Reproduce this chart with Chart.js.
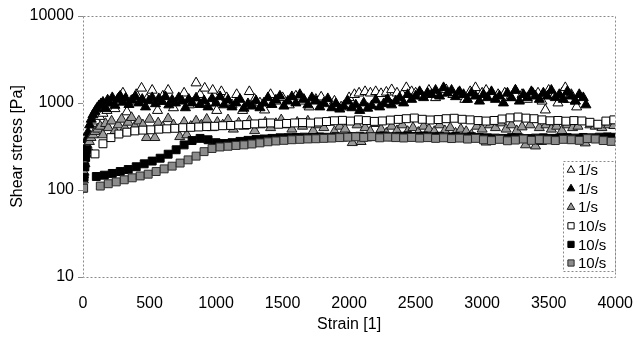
<!DOCTYPE html>
<html>
<head>
<meta charset="utf-8">
<script src="https://cdn.jsdelivr.net/npm/chart.js@4.4.1/dist/chart.umd.min.js"></script>
<style>
  body { margin: 0; background: #fff; }
  canvas { display: block; }
</style>
</head>
<body>
<canvas id="chart" width="633" height="338"></canvas>
<script>
// series labels as in the legend
const seriesLabels = ['1/s', '1/s', '1/s', '10/s', '10/s', '10/s'];
const xTicks = [0, 500, 1000, 1500, 2000, 2500, 3000, 3500, 4000];
const yTicks = [10, 100, 1000, 10000];

// 1/s, open triangles
const openTriStrain = [3, 10, 18, 30, 45, 60, 80, 100, 125, 150, 180, 210, 240, 270, 300, 330, 360, 400, 440, 480, 520, 560, 600, 640, 680, 720, 760, 800, 850, 880, 915, 950, 975, 1005, 1040, 1080, 1120, 1155, 1200, 1250, 1290, 1330, 1365, 1410, 1450, 1500, 1550, 1600, 1650, 1700, 1750, 1790, 1840, 1890, 1940, 2000, 2040, 2075, 2120, 2160, 2200, 2240, 2280, 2320, 2360, 2400, 2430, 2470, 2500, 2550, 2600, 2650, 2700, 2730, 2780, 2820, 2870, 2910, 2950, 3000, 3030, 3080, 3120, 3170, 3210, 3250, 3300, 3340, 3380, 3420, 3450, 3475, 3500, 3540, 3570, 3600, 3625, 3650, 3670, 3700, 3710];
const openTriStress = [150, 200, 260, 330, 420, 480, 560, 620, 700, 760, 820, 1000, 860, 1150, 1300, 790, 1050, 1250, 1480, 1100, 1400, 820, 1200, 1400, 880, 1100, 1300, 950, 1700, 1250, 1480, 1000, 1400, 820, 1350, 1150, 950, 1250, 820, 1350, 1100, 1000, 830, 1250, 1050, 1150, 950, 1200, 1050, 900, 1100, 1170, 980, 1050, 900, 1150, 1250, 1300, 1350, 1300, 1350, 1280, 1330, 1420, 1300, 1250, 1500, 1350, 1300, 1200, 1400, 1150, 1300, 1420, 1250, 1300, 1100, 1350, 1500, 1300, 1400, 1200, 1250, 1300, 1150, 1400, 1250, 1100, 1300, 1300, 1050, 830, 1400, 1200, 1000, 1300, 1500, 1100, 1250, 1050, 900];

// 1/s, filled triangles
const fullTriStrain = [5, 12, 20, 28, 38, 50, 62, 75, 90, 105, 120, 135, 150, 170, 185, 200, 220, 240, 260, 280, 300, 320, 345, 370, 395, 420, 445, 470, 495, 520, 545, 570, 595, 620, 645, 670, 695, 720, 745, 770, 795, 820, 850, 880, 910, 940, 970, 1000, 1030, 1060, 1090, 1120, 1150, 1180, 1210, 1240, 1270, 1300, 1330, 1360, 1390, 1420, 1450, 1480, 1510, 1540, 1570, 1600, 1630, 1660, 1690, 1720, 1750, 1780, 1810, 1840, 1870, 1900, 1930, 1960, 1990, 2020, 2050, 2080, 2110, 2140, 2170, 2200, 2230, 2260, 2290, 2320, 2350, 2380, 2410, 2440, 2470, 2500, 2530, 2560, 2590, 2620, 2650, 2680, 2710, 2740, 2770, 2800, 2830, 2860, 2890, 2920, 2950, 2980, 3010, 3040, 3070, 3100, 3130, 3160, 3190, 3220, 3250, 3280, 3310, 3340, 3370, 3400, 3430, 3460, 3490, 3520, 3550, 3580, 3610, 3640, 3670, 3700, 3730, 3760, 3780];
const fullTriStress = [180, 230, 300, 380, 460, 560, 650, 730, 800, 870, 930, 980, 1020, 860, 1080, 1000, 1150, 940, 1100, 1200, 1020, 1130, 960, 1080, 1180, 1000, 1100, 900, 1060, 1150, 980, 1120, 1040, 1180, 950, 1080, 1000, 1150, 1050, 880, 1100, 1000, 1140, 960, 1060, 900, 1120, 1000, 1180, 950, 1080, 900, 1000, 1100, 870, 980, 920, 1060, 880, 1000, 1150, 960, 1080, 1200, 920, 1050, 1180, 1000, 1250, 1100, 950, 1150, 1050, 900, 1000, 1120, 880, 980, 850, 920, 1050, 880, 950, 820, 1000, 870, 930, 1080, 900, 980, 1100, 950, 1050, 1150, 1000, 1250, 1100, 1200, 1350, 1150, 1300, 1250, 1400, 1200, 1500, 1300, 1400, 1180, 1350, 1250, 1100, 1300, 1200, 1050, 1250, 1150, 1350, 1100, 1200, 1000, 1300, 1150, 1400, 1050, 1250, 1150, 1350, 1200, 1100, 1300, 1200, 1400, 1150, 1250, 1100, 1350, 1200, 1050, 1250, 1150, 950];

// 1/s, grey triangles
const greyTriStrain = [3, 8, 15, 25, 35, 48, 60, 75, 90, 110, 130, 150, 170, 190, 215, 240, 265, 290, 315, 340, 365, 390, 420, 450, 477, 500, 540, 565, 600, 640, 680, 727, 760, 780, 810, 850, 890, 930, 970, 1010, 1050, 1090, 1130, 1170, 1210, 1250, 1290, 1330, 1370, 1410, 1450, 1490, 1530, 1570, 1610, 1650, 1690, 1730, 1770, 1810, 1850, 1890, 1930, 1970, 2024, 2060, 2090, 2120, 2160, 2200, 2240, 2280, 2320, 2360, 2400, 2440, 2480, 2520, 2560, 2600, 2640, 2680, 2720, 2760, 2800, 2840, 2880, 2920, 2960, 3000, 3030, 3060, 3100, 3140, 3180, 3220, 3260, 3300, 3326, 3360, 3401, 3430, 3446, 3480, 3520, 3560, 3600, 3640, 3680, 3720, 3775, 3810, 3850, 3900, 3950, 3990];
const greyTriStress = [130, 160, 200, 260, 310, 360, 400, 430, 470, 500, 540, 430, 580, 520, 620, 480, 560, 650, 520, 600, 680, 540, 620, 560, 400, 650, 400, 590, 530, 660, 560, 410, 600, 430, 540, 620, 560, 650, 520, 600, 560, 640, 500, 590, 540, 620, 480, 560, 600, 520, 580, 640, 560, 500, 600, 540, 620, 480, 560, 520, 600, 470, 540, 500, 350, 560, 360, 520, 470, 580, 500, 450, 540, 480, 560, 470, 520, 460, 540, 500, 470, 560, 480, 520, 450, 500, 470, 430, 540, 500, 355, 560, 520, 590, 500, 560, 480, 530, 330, 560, 320, 520, 360, 560, 500, 540, 480, 560, 520, 540, 347, 560, 540, 520, 560, 550];

// 10/s, open squares
const openSqStrain = [90, 150, 210, 270, 330, 390, 450, 510, 570, 630, 690, 750, 810, 870, 930, 990, 1050, 1110, 1170, 1230, 1290, 1350, 1410, 1470, 1530, 1590, 1650, 1710, 1770, 1830, 1890, 1950, 2010, 2070, 2130, 2190, 2250, 2310, 2370, 2430, 2490, 2550, 2610, 2670, 2730, 2790, 2850, 2910, 2970, 3030, 3090, 3150, 3210, 3270, 3330, 3390, 3450, 3510, 3570, 3630, 3690, 3750, 3810, 3870, 3930, 3990];
const openSqStress = [260, 340, 400, 440, 462, 478, 488, 492, 500, 505, 512, 520, 525, 530, 535, 540, 548, 552, 560, 565, 575, 585, 590, 570, 582, 590, 595, 588, 605, 612, 625, 632, 620, 640, 628, 615, 622, 636, 648, 660, 672, 650, 638, 645, 660, 668, 650, 640, 628, 620, 630, 655, 675, 690, 670, 660, 640, 625, 630, 618, 628, 622, 600, 570, 620, 640];

// 10/s, filled squares
const fullSqStrain = [3, 8, 14, 20, 26, 100, 160, 220, 280, 340, 400, 460, 520, 580, 640, 700, 760, 820, 880, 940, 1000, 1060, 1120, 1180, 1240, 1300, 1360, 1420, 1480, 1540, 1600, 1660, 1720, 1780, 1840, 1900, 1960, 2020, 2080, 2140, 2200, 2260, 2320, 2380, 2440, 2500, 2560, 2620, 2680, 2740, 2800, 2860, 2920, 2980, 3040, 3100, 3160, 3220, 3280, 3340, 3400, 3460, 3520, 3580, 3640, 3700, 3760, 3820, 3880, 3940, 3990];
const fullSqStress = [105, 140, 185, 240, 290, 143, 148, 155, 163, 172, 185, 200, 215, 232, 258, 290, 330, 370, 392, 378, 350, 342, 350, 362, 372, 380, 386, 392, 398, 400, 402, 405, 400, 408, 404, 410, 406, 412, 415, 408, 412, 418, 410, 415, 420, 412, 418, 410, 415, 408, 412, 405, 410, 402, 398, 395, 392, 400, 396, 390, 395, 398, 392, 396, 400, 395, 402, 398, 405, 408, 404];

// 10/s, grey squares
const greySqStrain = [5, 130, 190, 250, 310, 370, 430, 490, 550, 610, 670, 730, 790, 850, 910, 970, 1030, 1090, 1150, 1210, 1270, 1330, 1390, 1450, 1510, 1570, 1630, 1690, 1750, 1810, 1870, 1930, 1990, 2050, 2110, 2170, 2230, 2290, 2350, 2410, 2470, 2530, 2590, 2650, 2710, 2770, 2830, 2890, 2950, 3010, 3070, 3130, 3190, 3250, 3310, 3370, 3430, 3490, 3550, 3610, 3670, 3730, 3790, 3850, 3910, 3970];
const greySqStress = [105, 111, 118, 124, 131, 138, 145, 152, 163, 175, 188, 204, 222, 245, 276, 300, 312, 318, 325, 330, 338, 348, 358, 366, 372, 378, 382, 386, 388, 392, 395, 400, 405, 408, 402, 410, 398, 405, 400, 396, 402, 395, 400, 392, 398, 390, 395, 385, 392, 378, 370, 382, 368, 375, 385, 372, 380, 376, 370, 382, 378, 372, 390, 385, 370, 362];

const FONT = '"Liberation Sans", Arial, sans-serif';

function points(xs, ys) {
    return xs.map((x, i) => ({ x: x, y: ys[i] }));
}

const seriesData = [
    points(openTriStrain, openTriStress),
    points(fullTriStrain, fullTriStress),
    points(greyTriStrain, greyTriStress),
    points(openSqStrain, openSqStress),
    points(fullSqStrain, fullSqStress),
    points(greySqStrain, greySqStress)
];

const markerStyles = [
    { pointStyle: 'triangle', fill: '#ffffff', stroke: '#000000', r: 5.8 },
    { pointStyle: 'triangle', fill: '#000000', stroke: '#000000', r: 5.8 },
    { pointStyle: 'triangle', fill: '#9a9a9a', stroke: '#1a1a1a', r: 5.8 },
    { pointStyle: 'rect', fill: '#ffffff', stroke: '#000000', r: 5.6 },
    { pointStyle: 'rect', fill: '#000000', stroke: '#000000', r: 5.6 },
    { pointStyle: 'rect', fill: '#8c8c8c', stroke: '#2a2a2a', r: 5.6 }
];

// dotted frame round the plot area
const framePlugin = {
    id: 'frame',
    beforeDatasetsDraw(chart) {
        const { ctx, chartArea: a } = chart;
        ctx.save();
        ctx.strokeStyle = '#8a8a8a';
        ctx.lineWidth = 1;
        ctx.setLineDash([2, 2]);
        ctx.strokeRect(Math.round(a.left) + 0.5, Math.round(a.top) + 0.5,
            Math.round(a.right - a.left), Math.round(a.bottom - a.top));
        ctx.restore();
    }
};

// legend boxed inside the plot, lower right
const boxLegend = {
    id: 'boxLegend',
    afterDraw(chart) {
        const { ctx, chartArea: a } = chart;
        const w = 52, h = 110;
        const x0 = Math.round(a.right) - w, y0 = Math.round(a.bottom) - 6 - h;
        ctx.save();
        ctx.fillStyle = '#ffffff';
        ctx.fillRect(x0, y0, w, h);
        ctx.strokeStyle = '#8a8a8a';
        ctx.setLineDash([2, 2]);
        ctx.strokeRect(x0 + 0.5, y0 + 0.5, w, h);
        ctx.setLineDash([]);
        ctx.font = '15px ' + FONT;
        ctx.textBaseline = 'middle';
        seriesLabels.forEach((label, i) => {
            const y = y0 + 9 + i * 18.6;
            const s = markerStyles[i];
            ctx.fillStyle = s.fill;
            ctx.strokeStyle = s.stroke;
            ctx.lineWidth = 1;
            Chart.helpers.drawPoint(ctx, { pointStyle: s.pointStyle, radius: 4.4, borderWidth: 1, rotation: 0 }, x0 + 8, y);
            ctx.fillStyle = '#000000';
            ctx.fillText(label, x0 + 15, y + 1);
        });
        ctx.restore();
    }
};

new Chart(document.getElementById('chart'), {
    type: 'scatter',
    data: {
        datasets: seriesData.map((data, i) => ({
            label: seriesLabels[i],
            data: data,
            order: 6 - i,
            showLine: false,
            pointStyle: markerStyles[i].pointStyle,
            pointRadius: markerStyles[i].r,
            pointBackgroundColor: markerStyles[i].fill,
            pointBorderColor: markerStyles[i].stroke,
            pointBorderWidth: 1
        }))
    },
    options: {
        responsive: false,
        animation: false,
        layout: { padding: { top: 16, right: 0, bottom: 0, left: 0 } },
        plugins: {
            legend: { display: false },
            tooltip: { enabled: false }
        },
        scales: {
            x: {
                type: 'linear',
                min: 0,
                max: 4000,
                afterBuildTicks: scale => { scale.ticks = xTicks.map(v => ({ value: v })); },
                afterFit: scale => { scale.height = 61; },
                border: { display: false },
                // invisible tick marks only push the labels down
                grid: { display: true, drawOnChartArea: false, drawTicks: true, tickLength: 17, color: 'rgba(0,0,0,0)' },
                ticks: {
                    padding: 0,
                    color: '#000',
                    font: { family: FONT, size: 16 },
                    maxRotation: 0,
                    callback: v => String(v)
                },
                title: {
                    display: true,
                    text: 'Strain [1]',
                    color: '#000',
                    font: { family: FONT, size: 16 },
                    padding: { top: 0, bottom: 4 }
                }
            },
            y: {
                type: 'logarithmic',
                min: 10,
                max: 10000,
                afterBuildTicks: scale => { scale.ticks = yTicks.map(v => ({ value: v })); },
                afterFit: scale => { scale.width = 83; },
                border: { display: false },
                grid: { drawOnChartArea: false, drawTicks: true, tickLength: 5, color: '#8a8a8a' },
                ticks: {
                    padding: 4,
                    color: '#000',
                    font: { family: FONT, size: 16 },
                    callback: v => String(v)
                },
                title: {
                    display: true,
                    text: 'Shear stress [Pa]',
                    color: '#000',
                    font: { family: FONT, size: 16 },
                    padding: { top: 8, bottom: 0 }
                }
            }
        }
    },
    plugins: [framePlugin, boxLegend]
});
</script>
</body>
</html>
